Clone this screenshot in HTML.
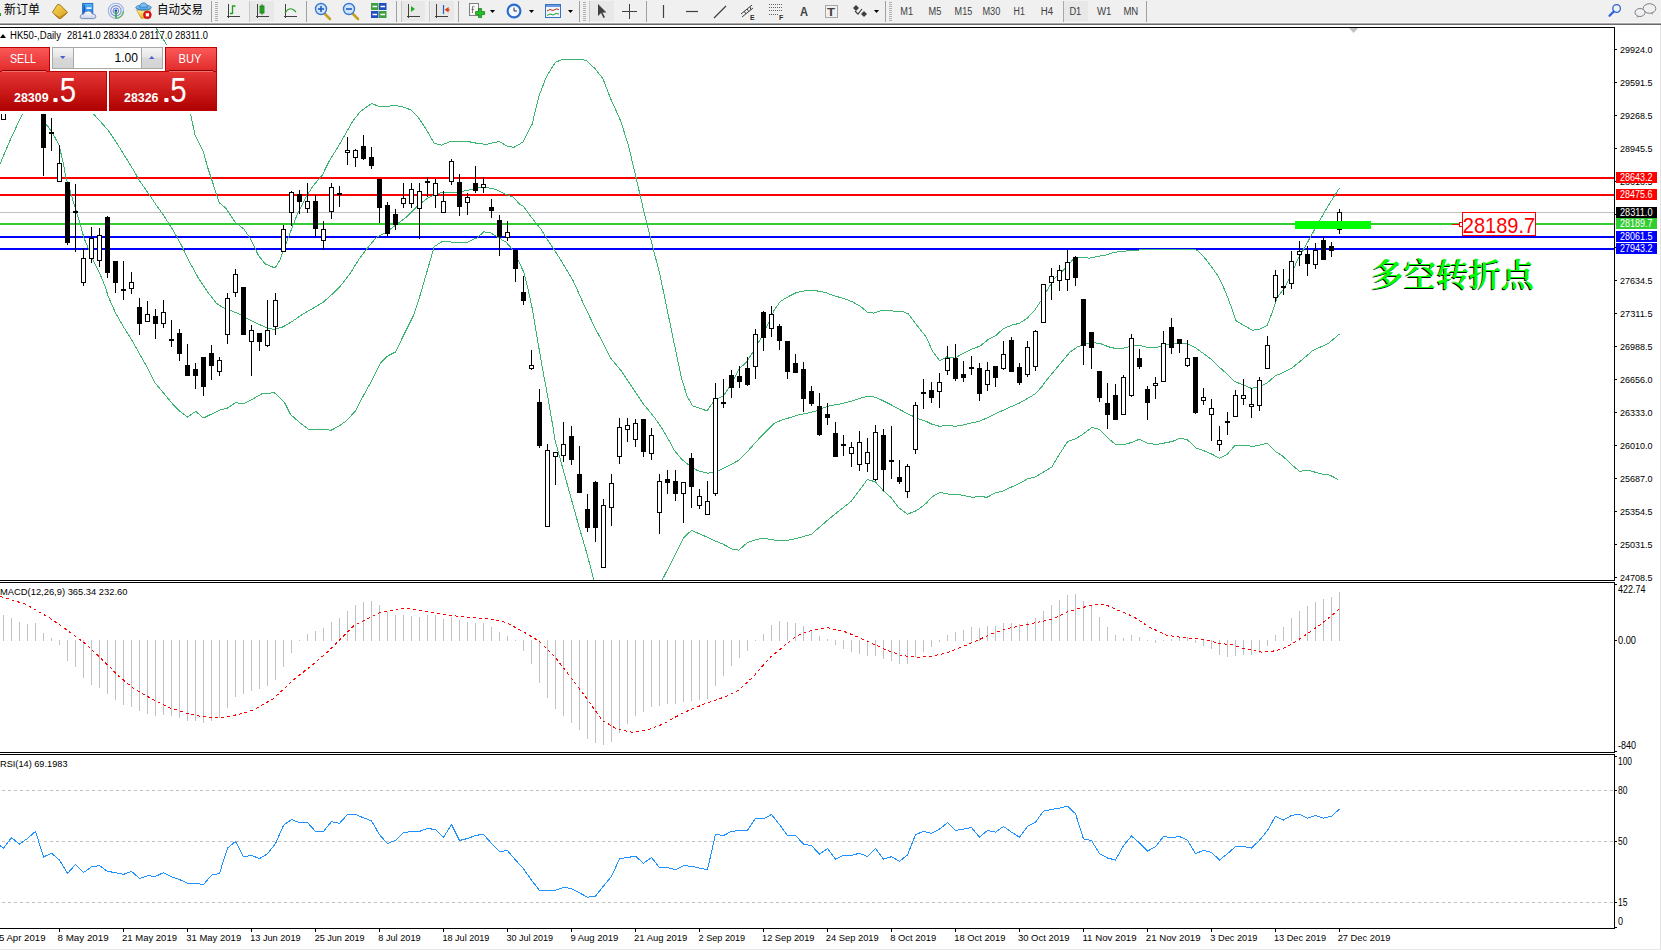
<!DOCTYPE html>
<html><head><meta charset="utf-8"><title>HK50 Daily</title>
<style>html,body{margin:0;padding:0;background:#f0f0f0;overflow:hidden}svg{display:block}</style>
</head><body>
<svg width="1661" height="950" viewBox="0 0 1661 950">
<rect x="0" y="0" width="1661" height="950" fill="#f0f0f0" />
<rect x="0" y="22" width="1661" height="1" fill="#f7f7f7" />
<rect x="0" y="23" width="1661" height="1" fill="#a8a8a8" />
<rect x="0" y="24" width="1661" height="1" fill="#6a6a6a" />
<rect x="0" y="25" width="1660" height="924" fill="#ffffff" />
<rect x="1660" y="25" width="1" height="925" fill="#e2e2e2" />
<text x="4" y="14" font-size="12" fill="#000" font-family="'Liberation Sans', 'Noto Sans CJK SC', 'WenQuanYi Zen Hei', sans-serif" textLength="36" lengthAdjust="spacingAndGlyphs" >新订单</text>
<text x="157" y="14" font-size="12" fill="#000" font-family="'Liberation Sans', 'Noto Sans CJK SC', 'WenQuanYi Zen Hei', sans-serif" textLength="46" lengthAdjust="spacingAndGlyphs" >自动交易</text>
<rect x="0" y="13" width="1" height="3" fill="#20a020" />
<defs><linearGradient id="gBook" x1="0" y1="0" x2="1" y2="1"><stop offset="0" stop-color="#f8d858"/><stop offset="1" stop-color="#d8a020"/></linearGradient><linearGradient id="gWin" x1="0" y1="0" x2="0" y2="1"><stop offset="0" stop-color="#58b8ff"/><stop offset="1" stop-color="#1a78e0"/></linearGradient><linearGradient id="gCloud" x1="0" y1="0" x2="0" y2="1"><stop offset="0" stop-color="#ffffff"/><stop offset="1" stop-color="#c8d4e8"/></linearGradient><linearGradient id="gHat" x1="0" y1="0" x2="0" y2="1"><stop offset="0" stop-color="#a8d8f8"/><stop offset="1" stop-color="#3a90d8"/></linearGradient><linearGradient id="gCup" x1="0" y1="0" x2="0" y2="1"><stop offset="0" stop-color="#fff0a0"/><stop offset="1" stop-color="#e8b020"/></linearGradient></defs>
<polygon points="52.5,12.2 57.6,4.4 60.3,5 67.6,12.4 61,18.4 58.6,18.4" fill="url(#gBook)" stroke="#a06a10" stroke-width="0.9" stroke-linejoin="round"/>
<path d="M54.5,14.6 L59.5,17.6 L66.8,13.2" fill="none" stroke="#b07818" stroke-width="1"/>
<rect x="82.6" y="3.4" width="10.2" height="10.5" fill="url(#gWin)" stroke="#1a68c8" stroke-width="0.9"/>
<path d="M84.2,4.4 L84.2,13" stroke="#0a50b0" stroke-width="1.2"/>
<rect x="86.5" y="7.2" width="5" height="1.8" fill="#e8f4ff"/>
<path d="M81.5,18.6 Q79.6,18.4 80.3,15.8 Q81.2,13.6 83.6,14.2 Q84.6,10.9 88.4,11 Q91.6,11.2 92.2,13.9 Q95.6,13.6 95.8,16.4 Q95.8,18.6 93.6,18.6 Z" fill="url(#gCloud)" stroke="#6a84b4" stroke-width="0.9"/>
<circle cx="115.9" cy="10.8" r="7.6" fill="none" stroke="#9ab4e8" stroke-width="1.1"/>
<circle cx="115.9" cy="10.8" r="5.2" fill="none" stroke="#7890d8" stroke-width="1.1"/>
<circle cx="115.9" cy="10.8" r="2.8" fill="none" stroke="#5a78d0" stroke-width="1"/>
<circle cx="115.9" cy="10.8" r="1.4" fill="#1a48c0"/>
<path d="M116,11 L116,18.6" stroke="#20a030" stroke-width="1.4"/>
<path d="M116.8,18.3 A7.6,7.6 0 0 0 123.5,11" fill="none" stroke="#58b860" stroke-width="1.3"/>
<path d="M136.5,10 L150.5,10 L146,18.2 L141,18.2 Z" fill="url(#gCup)" stroke="#c89818" stroke-width="0.7"/>
<ellipse cx="143.5" cy="7.6" rx="7.8" ry="2.6" fill="url(#gHat)" stroke="#2a78c0" stroke-width="0.8"/>
<path d="M139.6,7.2 Q140,3 143.6,2.9 Q147.2,3 147.5,7.2 Z" fill="#7cc0f0" stroke="#2a78c0" stroke-width="0.8"/>
<circle cx="147.4" cy="14.8" r="3.9" fill="#e01818" stroke="#b00000" stroke-width="0.6"/>
<rect x="145.8" y="13.2" width="3.2" height="3.2" fill="#ffffff"/>
<rect x="211" y="1" width="1" height="21" fill="#a0a0a0" shape-rendering="crispEdges"/>
<rect x="215" y="2" width="3" height="1" fill="#b0b0b0" shape-rendering="crispEdges"/>
<rect x="215" y="4" width="3" height="1" fill="#b0b0b0" shape-rendering="crispEdges"/>
<rect x="215" y="6" width="3" height="1" fill="#b0b0b0" shape-rendering="crispEdges"/>
<rect x="215" y="8" width="3" height="1" fill="#b0b0b0" shape-rendering="crispEdges"/>
<rect x="215" y="10" width="3" height="1" fill="#b0b0b0" shape-rendering="crispEdges"/>
<rect x="215" y="12" width="3" height="1" fill="#b0b0b0" shape-rendering="crispEdges"/>
<rect x="215" y="14" width="3" height="1" fill="#b0b0b0" shape-rendering="crispEdges"/>
<rect x="215" y="16" width="3" height="1" fill="#b0b0b0" shape-rendering="crispEdges"/>
<rect x="215" y="18" width="3" height="1" fill="#b0b0b0" shape-rendering="crispEdges"/>
<rect x="215" y="20" width="3" height="1" fill="#b0b0b0" shape-rendering="crispEdges"/>
<rect x="250" y="1" width="24" height="20" fill="#e8e8e8" shape-rendering="crispEdges"/>
<rect x="249" y="1" width="1" height="21" fill="#c8c8c8" shape-rendering="crispEdges"/>
<path d="M228.5,4 L228.5,18 M227,16.5 L240,16.5" stroke="#404040" stroke-width="1" fill="none" shape-rendering="crispEdges"/>
<path d="M232.5,14 L232.5,6 L235.5,6 M230,13.5 L232.5,13.5" stroke="#20a020" stroke-width="1.3" fill="none"/>
<path d="M257.5,4 L257.5,18 M256,16.5 L269,16.5" stroke="#404040" stroke-width="1" fill="none" shape-rendering="crispEdges"/>
<rect x="260" y="6" width="4" height="7" fill="#30c030" stroke="#107010" stroke-width="0.8"/>
<path d="M262,4 L262,15" stroke="#107010" stroke-width="0.8"/>
<path d="M285.5,4 L285.5,18 M284,16.5 L297,16.5" stroke="#404040" stroke-width="1" fill="none" shape-rendering="crispEdges"/>
<path d="M285,13 Q290,5 296,12" stroke="#20a020" stroke-width="1.2" fill="none"/>
<rect x="306" y="1" width="1" height="21" fill="#a0a0a0" shape-rendering="crispEdges"/>
<path d="M324,13 L330,19" stroke="#c8a020" stroke-width="2.6" stroke-linecap="round"/>
<circle cx="321" cy="9" r="5.5" fill="#cfe4fa" stroke="#3a78d0" stroke-width="1.4"/>
<path d="M318,9 L324,9" stroke="#2060c0" stroke-width="1.6"/>
<path d="M321,6 L321,12" stroke="#2060c0" stroke-width="1.6"/>
<path d="M352,13 L358,19" stroke="#c8a020" stroke-width="2.6" stroke-linecap="round"/>
<circle cx="349" cy="9" r="5.5" fill="#cfe4fa" stroke="#3a78d0" stroke-width="1.4"/>
<path d="M346,9 L352,9" stroke="#2060c0" stroke-width="1.6"/>
<rect x="371" y="3" width="7.5" height="7" fill="#40a040"/><rect x="379" y="3" width="7.5" height="7" fill="#2050c0"/>
<rect x="371" y="11" width="7.5" height="7" fill="#2050c0"/><rect x="379" y="11" width="7.5" height="7" fill="#40a040"/>
<path d="M372.5,6.5 h4.5 M380.5,6.5 h4.5 M372.5,14.5 h4.5 M380.5,14.5 h4.5" stroke="#fff" stroke-width="1.5"/>
<rect x="396" y="1" width="1" height="21" fill="#a0a0a0" shape-rendering="crispEdges"/>
<rect x="402" y="1" width="23" height="20" fill="#e8e8e8" shape-rendering="crispEdges"/>
<rect x="401" y="1" width="1" height="21" fill="#c8c8c8" shape-rendering="crispEdges"/>
<path d="M408.5,4 L408.5,18 M407,16.5 L420,16.5" stroke="#404040" stroke-width="1" fill="none" shape-rendering="crispEdges"/>
<polygon points="411,6 415,9 411,12" fill="#20b020"/>
<rect x="429" y="1" width="1" height="21" fill="#c8c8c8" shape-rendering="crispEdges"/>
<rect x="431" y="1" width="23" height="20" fill="#e8e8e8" shape-rendering="crispEdges"/>
<path d="M436.5,4 L436.5,18 M435,16.5 L448,16.5" stroke="#404040" stroke-width="1" fill="none" shape-rendering="crispEdges"/>
<path d="M443.5,5 L443.5,14" stroke="#2060c0" stroke-width="1.2"/><polygon points="444.6,9.8 448.6,7 448.6,12.6" fill="#e04010"/><path d="M448,9.8 h1.8" stroke="#e04010"/>
<rect x="458" y="1" width="1" height="21" fill="#a0a0a0" shape-rendering="crispEdges"/>
<rect x="469.5" y="3.5" width="9" height="12" fill="#f8f8f8" stroke="#808080"/>
<polygon points="478.6,8.6 481.6,8.6 481.6,11.6 484.6,11.6 484.6,14.6 481.6,14.6 481.6,17.6 478.6,17.6 478.6,14.6 475.6,14.6 475.6,11.6 478.6,11.6" fill="#28c028" stroke="#108010" stroke-width="0.8"/>
<path d="M472,7 q1.5,-1.5 2.5,0 M472.5,7 v6 M471.5,9.5 h2.5" stroke="#606060" stroke-width="0.8" fill="none"/>
<polygon points="490,10 495,10 492.5,13" fill="#000"/>
<circle cx="514" cy="11" r="7.5" fill="#2a6cd0"/><circle cx="514" cy="11" r="5.3" fill="#f4f8ff"/>
<path d="M514,7.5 L514,11 L517,11" stroke="#303030" stroke-width="1" fill="none"/>
<polygon points="529,10 534,10 531.5,13" fill="#000"/>
<rect x="545.5" y="4.5" width="15" height="13" fill="#f0f6ff" stroke="#3a70c0"/><rect x="546" y="5" width="14" height="2" fill="#6a9ae0"/>
<path d="M547,11 l3,-1.5 l3,1 l3,-1.5 l3,0.5" stroke="#c03010" fill="none" stroke-width="1"/><path d="M547,15.5 l3,-1.5 l3,1 l3,-1.5 l3,0.5" stroke="#20a020" fill="none" stroke-width="1"/>
<polygon points="568,10 573,10 570.5,13" fill="#000"/>
<rect x="579" y="1" width="1" height="21" fill="#a0a0a0" shape-rendering="crispEdges"/>
<rect x="583" y="2" width="3" height="1" fill="#b0b0b0" shape-rendering="crispEdges"/>
<rect x="583" y="4" width="3" height="1" fill="#b0b0b0" shape-rendering="crispEdges"/>
<rect x="583" y="6" width="3" height="1" fill="#b0b0b0" shape-rendering="crispEdges"/>
<rect x="583" y="8" width="3" height="1" fill="#b0b0b0" shape-rendering="crispEdges"/>
<rect x="583" y="10" width="3" height="1" fill="#b0b0b0" shape-rendering="crispEdges"/>
<rect x="583" y="12" width="3" height="1" fill="#b0b0b0" shape-rendering="crispEdges"/>
<rect x="583" y="14" width="3" height="1" fill="#b0b0b0" shape-rendering="crispEdges"/>
<rect x="583" y="16" width="3" height="1" fill="#b0b0b0" shape-rendering="crispEdges"/>
<rect x="583" y="18" width="3" height="1" fill="#b0b0b0" shape-rendering="crispEdges"/>
<rect x="583" y="20" width="3" height="1" fill="#b0b0b0" shape-rendering="crispEdges"/>
<rect x="589" y="1" width="1" height="21" fill="#c8c8c8" shape-rendering="crispEdges"/>
<rect x="590" y="1" width="24" height="20" fill="#e8e8e8" shape-rendering="crispEdges"/>
<polygon points="598,4 598,16 601,13 603.5,18 605,17.3 602.5,12.5 606.5,12.5" fill="#404040"/>
<path d="M622,11.5 h15 M629.5,4 v15" stroke="#404040" stroke-width="1" shape-rendering="crispEdges"/>
<rect x="646" y="1" width="1" height="21" fill="#a0a0a0" shape-rendering="crispEdges"/>
<path d="M663.5,5 v13" stroke="#404040" stroke-width="1.2"/>
<path d="M686,11.5 h12" stroke="#404040" stroke-width="1.2"/>
<path d="M714,18 L726,6" stroke="#404040" stroke-width="1.2"/>
<path d="M741,14 L752,5 M742,17 L753,8 M744,11 l2,3 M747,9 l2,3 M750,7 l1,3" stroke="#404040" stroke-width="1"/>
<text x="750" y="19.5" font-size="7" fill="#303030" font-family="'Liberation Sans', Arial, sans-serif" font-weight="bold" >E</text>
<path d="M769,4.5 h13 M769,7.5 h13 M769,10.5 h13 M769,14.5 h10" stroke="#606060" stroke-width="1" stroke-dasharray="1,1"/>
<text x="779" y="19.5" font-size="7" fill="#303030" font-family="'Liberation Sans', Arial, sans-serif" font-weight="bold" >F</text>
<text x="800" y="16" font-size="12" fill="#404040" font-family="'Liberation Sans', Arial, sans-serif" textLength="8" lengthAdjust="spacingAndGlyphs" font-weight="bold" >A</text>
<rect x="825.5" y="5.5" width="12" height="12" fill="none" stroke="#606060" stroke-dasharray="1,1"/>
<text x="827" y="16" font-size="11" fill="#404040" font-family="'Liberation Sans', Arial, sans-serif" textLength="8" lengthAdjust="spacingAndGlyphs" font-weight="bold" >T</text>
<polygon points="853,8 856,5 859,8 856,11" fill="#404040"/><polygon points="861,14 864,11 867,14 864,17" fill="#404040"/><path d="M855,11 l3,3 l4,-5" stroke="#404040" fill="none" stroke-width="1.2"/>
<polygon points="874,10 879,10 876.5,13" fill="#000"/>
<rect x="885" y="1" width="1" height="21" fill="#a0a0a0" shape-rendering="crispEdges"/>
<rect x="889" y="2" width="3" height="1" fill="#b0b0b0" shape-rendering="crispEdges"/>
<rect x="889" y="4" width="3" height="1" fill="#b0b0b0" shape-rendering="crispEdges"/>
<rect x="889" y="6" width="3" height="1" fill="#b0b0b0" shape-rendering="crispEdges"/>
<rect x="889" y="8" width="3" height="1" fill="#b0b0b0" shape-rendering="crispEdges"/>
<rect x="889" y="10" width="3" height="1" fill="#b0b0b0" shape-rendering="crispEdges"/>
<rect x="889" y="12" width="3" height="1" fill="#b0b0b0" shape-rendering="crispEdges"/>
<rect x="889" y="14" width="3" height="1" fill="#b0b0b0" shape-rendering="crispEdges"/>
<rect x="889" y="16" width="3" height="1" fill="#b0b0b0" shape-rendering="crispEdges"/>
<rect x="889" y="18" width="3" height="1" fill="#b0b0b0" shape-rendering="crispEdges"/>
<rect x="889" y="20" width="3" height="1" fill="#b0b0b0" shape-rendering="crispEdges"/>
<text x="900.3" y="15" font-size="10" fill="#404040" font-family="'Liberation Sans', Arial, sans-serif" textLength="12.8" lengthAdjust="spacingAndGlyphs" >M1</text>
<text x="928.5" y="15" font-size="10" fill="#404040" font-family="'Liberation Sans', Arial, sans-serif" textLength="12.8" lengthAdjust="spacingAndGlyphs" >M5</text>
<text x="954.6" y="15" font-size="10" fill="#404040" font-family="'Liberation Sans', Arial, sans-serif" textLength="17.6" lengthAdjust="spacingAndGlyphs" >M15</text>
<text x="982.4" y="15" font-size="10" fill="#404040" font-family="'Liberation Sans', Arial, sans-serif" textLength="17.9" lengthAdjust="spacingAndGlyphs" >M30</text>
<text x="1013.5" y="15" font-size="10" fill="#404040" font-family="'Liberation Sans', Arial, sans-serif" textLength="11.3" lengthAdjust="spacingAndGlyphs" >H1</text>
<text x="1040.7" y="15" font-size="10" fill="#404040" font-family="'Liberation Sans', Arial, sans-serif" textLength="12.3" lengthAdjust="spacingAndGlyphs" >H4</text>
<rect x="1063" y="1" width="1" height="21" fill="#a8a8a8" shape-rendering="crispEdges"/>
<rect x="1064" y="1" width="24" height="20" fill="#e8e8e8" shape-rendering="crispEdges"/>
<text x="1069.4" y="15" font-size="10" fill="#404040" font-family="'Liberation Sans', Arial, sans-serif" textLength="11.9" lengthAdjust="spacingAndGlyphs" >D1</text>
<text x="1097" y="15" font-size="10" fill="#404040" font-family="'Liberation Sans', Arial, sans-serif" textLength="14.5" lengthAdjust="spacingAndGlyphs" >W1</text>
<text x="1123.4" y="15" font-size="10" fill="#404040" font-family="'Liberation Sans', Arial, sans-serif" textLength="14.9" lengthAdjust="spacingAndGlyphs" >MN</text>
<rect x="1146" y="1" width="1" height="21" fill="#a0a0a0" shape-rendering="crispEdges"/>
<circle cx="1616.6" cy="8.5" r="3.8" fill="none" stroke="#2a62d8" stroke-width="1.3"/><path d="M1613.8,11.5 L1609.5,15.8" stroke="#2a62d8" stroke-width="2.2" stroke-linecap="round"/>
<ellipse cx="1649.5" cy="8.5" rx="6.3" ry="4.8" fill="#f0f0f4" stroke="#808080"/><path d="M1651,13 l1.5,2 l0.3,-2.4" fill="#909090"/>
<ellipse cx="1640" cy="12.5" rx="5" ry="4" fill="#f0f0f4" stroke="#808080"/><path d="M1637,16 l-0.5,2 l2.2,-1.6" fill="#909090"/>
<g shape-rendering="crispEdges">
<rect x="0" y="27" width="1615" height="1" fill="#000" />
<rect x="1614" y="27" width="1" height="554" fill="#000" />
<rect x="0" y="580" width="1615" height="1" fill="#000" />
<rect x="0" y="582" width="1615" height="1" fill="#000" />
<rect x="1614" y="582" width="1" height="171" fill="#000" />
<rect x="0" y="752" width="1615" height="1" fill="#000" />
<rect x="0" y="754" width="1615" height="1" fill="#000" />
<rect x="1614" y="754" width="1" height="175" fill="#000" />
<rect x="0" y="928" width="1615" height="1" fill="#000" />
</g>
<defs><clipPath id="mc"><rect x="0" y="28" width="1614" height="552"/></clipPath><clipPath id="macdc"><rect x="0" y="583" width="1614" height="169"/></clipPath><clipPath id="rsic"><rect x="0" y="755" width="1614" height="173"/></clipPath></defs>
<g clip-path="url(#mc)">
<g shape-rendering="crispEdges">
<rect x="0" y="212" width="1614" height="1" fill="#c0c0c0" />
<rect x="0" y="177" width="1614" height="2" fill="#ff0000" />
<rect x="0" y="194" width="1614" height="2" fill="#ff0000" />
<rect x="0" y="223" width="1614" height="2" fill="#32cd32" />
<rect x="0" y="236" width="1614" height="2" fill="#0000ff" />
<rect x="0" y="248" width="1614" height="2" fill="#0000ff" />
</g>
<polyline points="155.4,27.0 166.3,44.2 178.0,78.0 190.5,113.4 195.0,135.1 203.2,151.3 207.7,167.6 211.3,178.4 216.7,194.7 219.4,202.8 225.8,208.2 234.8,221.8 243.8,229.0 251.0,239.8 258.3,255.2 265.5,264.2 268.8,265.4 275.1,268.1 279.9,260.0 288.1,238.1 297.1,214.6 306.1,196.6 313.3,185.7 322.4,174.9 329.6,160.4 338.6,146.0 345.9,133.3 353.1,120.7 360.3,111.7 367.5,106.3 372.0,103.5 378.4,106.3 387.4,106.3 394.6,105.4 403.6,107.2 410.9,109.9 418.1,117.1 425.3,127.9 434.3,143.3 441.6,145.1 450.6,141.5 459.6,141.5 470.5,142.0 479.5,143.8 486.7,144.2 493.9,142.7 499.4,141.5 506.6,146.0 513.8,147.4 520.0,143.9 523.3,141.7 532.2,124.0 538.8,96.4 546.5,76.5 555.4,62.2 563.1,59.3 580.8,59.3 586.3,60.6 595.2,68.8 602.9,78.7 610.6,98.6 620.6,120.7 628.3,145.0 634.9,172.7 640.5,197.0 646.0,220.2 651.5,242.3 654.8,255.0 659.4,272.1 664.9,298.6 670.4,325.2 675.9,351.7 681.5,378.2 687.0,395.9 692.5,405.8 699.2,408.0 706.9,410.9 714.6,400.3 723.5,395.9 732.3,382.6 739.5,368.4 745.8,362.9 753.7,351.0 761.6,336.8 767.9,324.2 774.2,310.0 780.5,301.3 788.4,296.6 796.3,292.6 805.8,290.7 815.2,290.6 824.7,292.3 834.2,295.8 843.7,298.5 853.1,302.1 861.0,306.8 867.3,312.0 873.6,313.1 881.5,310.5 887.9,310.5 895.7,311.3 903.6,311.9 908.4,313.9 913.1,320.3 920.0,329.2 926.3,337.1 932.6,351.3 939.7,360.8 946.8,356.8 954.7,358.1 962.6,353.7 972.1,348.9 980.0,346.1 987.9,339.8 995.8,335.5 1003.7,328.4 1011.6,325.2 1019.4,323.3 1027.3,318.1 1035.2,309.5 1041.5,300.0 1047.9,288.9 1054.2,278.7 1062.1,271.6 1068.4,265.3 1073.9,258.2 1081.0,257.0 1088.9,258.2 1096.8,256.6 1106.3,255.0 1114.2,252.3 1128.4,250.7 1142.6,249.8 1166.3,249.8 1194.7,249.5 1197.9,251.0 1204.2,257.4 1210.5,265.3 1217.6,275.5 1221.5,282.6 1226.3,293.7 1231.0,306.3 1235.8,320.5 1243.6,325.2 1252.3,330.3 1259.4,329.2 1267.3,325.2 1272.1,312.6 1276.8,298.4 1284.7,287.4 1291.0,274.7 1297.3,260.5 1300.0,255.8 1315.8,227.4 1328.5,205.3 1339.5,187.9" fill="none" stroke="#3cb371" stroke-width="1" shape-rendering="crispEdges" />
<polyline points="93.0,113.4 101.1,122.4 108.4,130.6 117.4,144.1 126.4,158.6 133.6,170.3 139.1,180.2 148.1,192.9 155.3,203.7 164.3,216.4 173.4,230.8 182.4,247.1 188.4,260.0 198.4,278.1 207.4,291.6 216.4,303.3 223.6,307.9 230.9,310.6 239.9,314.2 247.1,318.7 256.2,323.2 267.0,327.7 274.2,329.5 283.2,326.8 292.3,321.4 301.3,315.1 312.1,308.8 323.0,302.4 332.0,294.3 341.0,285.3 350.1,273.5 358.5,260.0 367.5,248.0 376.6,237.2 385.6,232.7 396.4,224.5 407.3,216.4 418.1,205.6 427.1,198.4 436.2,193.8 445.2,192.0 457.8,192.0 468.7,190.2 477.7,187.5 486.7,187.5 495.8,189.3 504.8,193.8 513.8,197.5 520.0,204.7 522.8,205.6 531.1,216.9 540.9,229.1 549.9,243.5 554.4,250.0 562.1,262.2 573.2,280.9 584.2,305.3 595.3,328.5 604.1,345.0 610.7,358.3 621.8,371.6 635.0,391.5 643.9,404.7 654.9,418.0 663.8,431.3 672.6,446.7 674.2,450.3 682.1,459.7 690.0,466.0 697.9,470.8 707.3,473.1 712.1,472.8 720.0,470.0 729.4,465.3 737.9,460.8 745.8,453.4 752.1,446.3 760.0,437.6 766.3,431.3 774.2,423.4 782.1,419.8 790.0,417.6 797.9,415.1 805.8,413.5 815.2,411.3 823.1,407.9 831.0,405.5 840.5,403.9 851.5,401.2 859.4,398.4 867.3,396.5 875.2,397.1 883.1,400.8 891.0,404.7 898.9,409.1 906.8,413.4 914.7,417.0 920.0,419.5 926.3,421.4 932.6,424.5 939.7,426.3 947.6,425.3 955.5,426.3 963.4,425.0 971.3,422.9 979.2,421.4 987.1,417.9 995.8,413.6 1003.7,410.0 1010.8,406.8 1018.7,403.4 1027.3,398.6 1035.2,393.9 1041.5,387.1 1046.3,380.5 1054.2,371.0 1062.1,361.5 1070.0,352.1 1077.9,346.6 1087.3,343.4 1095.2,342.9 1100.0,343.4 1107.9,346.6 1115.8,348.6 1123.7,348.1 1131.6,346.1 1139.5,345.4 1147.4,347.3 1156.8,347.3 1163.1,345.4 1171.0,344.2 1178.9,342.9 1186.8,343.4 1194.7,347.3 1202.6,352.9 1210.5,358.7 1218.4,366.3 1226.3,373.4 1234.2,381.3 1242.1,384.4 1251.5,388.4 1259.4,386.8 1267.3,382.9 1275.2,375.8 1283.1,372.6 1291.0,368.7 1300.0,361.5 1312.7,350.6 1328.5,343.4 1339.5,333.9" fill="none" stroke="#3cb371" stroke-width="1" shape-rendering="crispEdges" />
<polyline points="0.0,164.0 10.8,138.7 22.6,113.4 30.0,100.0" fill="none" stroke="#3cb371" stroke-width="1" shape-rendering="crispEdges" />
<polyline points="36.0,105.0 41.0,114.0 46.0,124.0 52.0,132.0 59.0,145.0 63.0,162.0 66.0,178.0 70.0,190.0 74.0,204.0 79.0,220.0 84.0,238.0 89.0,250.0 94.0,262.0 100.0,274.0 105.0,286.0 108.1,296.1 115.3,312.4 123.4,326.8 131.5,339.5 140.6,355.7 147.8,368.4 155.0,382.8 164.0,393.6 173.1,404.5 180.3,411.7 187.5,417.1 195.7,411.3 203.4,418.0 211.3,414.2 219.1,410.3 227.3,408.1 235.4,402.7 243.5,403.6 252.5,399.1 261.6,394.0 270.0,393.1 274.2,392.7 279.6,397.3 284.5,402.5 290.5,414.4 299.5,422.5 308.5,429.2 326.6,429.2 330.5,430.5 338.7,426.3 346.5,420.7 355.5,410.8 364.5,393.6 373.5,377.4 380.0,363.7 387.7,356.0 395.5,352.0 404.3,333.9 413.2,316.2 419.8,296.3 427.5,269.8 434.2,246.6 443.0,241.1 452.9,242.2 467.3,242.2 477.3,237.7 483.9,231.8 490.5,232.7 496.0,236.2 506.0,242.2 512.6,249.5 517.0,257.6 523.7,272.0 528.1,289.7 532.5,309.6 536.9,336.1 541.4,362.6 548.0,398.0 553.3,429.0 555.0,440.0 563.7,471.6 571.6,500.0 579.5,528.4 587.4,555.2 593.7,579.7 596.0,590.0" fill="none" stroke="#3cb371" stroke-width="1" shape-rendering="crispEdges" />
<polyline points="660.0,590.0 662.3,579.7 671.0,563.1 677.3,550.5 683.6,537.9 691.5,530.3 699.4,533.9 707.3,537.1 715.2,541.0 723.1,544.2 731.8,548.9 738.7,550.2 747.4,542.6 755.3,539.8 763.1,538.2 771.0,539.4 778.9,541.0 788.4,540.2 796.3,538.6 804.2,536.3 811.3,534.4 820.0,526.8 829.4,518.6 838.9,511.0 850.8,501.6 859.4,490.5 867.3,479.5 875.2,481.8 883.1,490.5 891.0,497.6 898.9,507.9 907.6,514.2 915.5,511.0 920.0,508.2 926.3,503.1 932.6,496.5 939.7,492.4 947.6,494.0 957.9,494.4 964.2,495.7 972.1,497.3 980.0,496.5 987.1,497.3 994.2,493.3 1002.1,491.3 1011.6,487.0 1019.4,483.4 1027.3,479.0 1035.2,477.1 1043.1,472.3 1051.8,467.1 1058.9,455.0 1067.6,441.6 1074.7,439.2 1082.6,434.5 1092.1,427.4 1099.2,429.3 1110.1,439.9 1115.6,444.4 1124.5,444.4 1132.0,442.3 1139.2,439.3 1148.1,443.6 1157.3,444.4 1164.1,443.1 1172.5,441.4 1179.3,438.5 1186.8,439.3 1196.1,447.9 1205.4,451.3 1213.0,454.7 1219.3,458.2 1227.3,454.3 1234.9,445.4 1240.0,445.4 1248.0,445.5 1251.8,446.5 1259.4,445.2 1267.0,443.2 1275.8,451.8 1282.1,455.6 1293.5,466.3 1299.8,471.4 1307.4,470.1 1313.7,471.8 1321.3,473.9 1330.1,475.2 1338.3,479.6" fill="none" stroke="#3cb371" stroke-width="1" shape-rendering="crispEdges" />
<g shape-rendering="crispEdges" fill="#000">
<rect x="3" y="100" width="1" height="20"/>
<rect x="1" y="104" width="5" height="16"/>
<rect x="2" y="105" width="3" height="14" fill="#fff"/>
<rect x="43" y="90" width="1" height="86"/>
<rect x="41" y="90" width="5" height="58"/>
<rect x="51" y="118" width="1" height="33"/>
<rect x="49" y="132" width="5" height="2"/>
<rect x="59" y="145" width="1" height="37"/>
<rect x="57" y="163" width="5" height="19"/>
<rect x="58" y="164" width="3" height="17" fill="#fff"/>
<rect x="67" y="182" width="1" height="63"/>
<rect x="65" y="182" width="5" height="61"/>
<rect x="75" y="184" width="1" height="68"/>
<rect x="73" y="211" width="5" height="2"/>
<rect x="83" y="248" width="1" height="38"/>
<rect x="81" y="258" width="5" height="25"/>
<rect x="82" y="259" width="3" height="23" fill="#fff"/>
<rect x="91" y="227" width="1" height="36"/>
<rect x="89" y="238" width="5" height="21"/>
<rect x="90" y="239" width="3" height="19" fill="#fff"/>
<rect x="99" y="228" width="1" height="39"/>
<rect x="97" y="235" width="5" height="26"/>
<rect x="98" y="236" width="3" height="24" fill="#fff"/>
<rect x="107" y="216" width="1" height="62"/>
<rect x="105" y="217" width="5" height="56"/>
<rect x="115" y="261" width="1" height="32"/>
<rect x="113" y="261" width="5" height="22"/>
<rect x="123" y="261" width="1" height="39"/>
<rect x="121" y="289" width="5" height="2"/>
<rect x="131" y="272" width="1" height="22"/>
<rect x="129" y="282" width="5" height="7"/>
<rect x="130" y="283" width="3" height="5" fill="#fff"/>
<rect x="139" y="298" width="1" height="37"/>
<rect x="137" y="307" width="5" height="17"/>
<rect x="147" y="301" width="1" height="21"/>
<rect x="145" y="314" width="5" height="8"/>
<rect x="146" y="315" width="3" height="6" fill="#fff"/>
<rect x="155" y="309" width="1" height="30"/>
<rect x="153" y="316" width="5" height="8"/>
<rect x="163" y="300" width="1" height="28"/>
<rect x="161" y="312" width="5" height="12"/>
<rect x="162" y="313" width="3" height="10" fill="#fff"/>
<rect x="171" y="320" width="1" height="27"/>
<rect x="169" y="339" width="5" height="2"/>
<rect x="179" y="329" width="1" height="32"/>
<rect x="177" y="333" width="5" height="21"/>
<rect x="187" y="344" width="1" height="32"/>
<rect x="185" y="365" width="5" height="11"/>
<rect x="195" y="363" width="1" height="26"/>
<rect x="193" y="369" width="5" height="7"/>
<rect x="203" y="357" width="1" height="39"/>
<rect x="201" y="357" width="5" height="30"/>
<rect x="211" y="345" width="1" height="35"/>
<rect x="209" y="353" width="5" height="13"/>
<rect x="219" y="357" width="1" height="19"/>
<rect x="217" y="360" width="5" height="12"/>
<rect x="218" y="361" width="3" height="10" fill="#fff"/>
<rect x="227" y="293" width="1" height="51"/>
<rect x="225" y="298" width="5" height="37"/>
<rect x="226" y="299" width="3" height="35" fill="#fff"/>
<rect x="235" y="269" width="1" height="28"/>
<rect x="233" y="274" width="5" height="19"/>
<rect x="234" y="275" width="3" height="17" fill="#fff"/>
<rect x="243" y="287" width="1" height="48"/>
<rect x="241" y="287" width="5" height="48"/>
<rect x="251" y="325" width="1" height="51"/>
<rect x="249" y="330" width="5" height="12"/>
<rect x="250" y="331" width="3" height="10" fill="#fff"/>
<rect x="259" y="333" width="1" height="18"/>
<rect x="257" y="333" width="5" height="9"/>
<rect x="267" y="300" width="1" height="47"/>
<rect x="265" y="330" width="5" height="16"/>
<rect x="266" y="331" width="3" height="14" fill="#fff"/>
<rect x="275" y="293" width="1" height="42"/>
<rect x="273" y="300" width="5" height="27"/>
<rect x="274" y="301" width="3" height="25" fill="#fff"/>
<rect x="283" y="225" width="1" height="27"/>
<rect x="281" y="229" width="5" height="23"/>
<rect x="282" y="230" width="3" height="21" fill="#fff"/>
<rect x="291" y="191" width="1" height="35"/>
<rect x="289" y="192" width="5" height="21"/>
<rect x="290" y="193" width="3" height="19" fill="#fff"/>
<rect x="299" y="190" width="1" height="24"/>
<rect x="297" y="194" width="5" height="8"/>
<rect x="307" y="183" width="1" height="30"/>
<rect x="305" y="201" width="5" height="8"/>
<rect x="306" y="202" width="3" height="6" fill="#fff"/>
<rect x="315" y="195" width="1" height="42"/>
<rect x="313" y="201" width="5" height="28"/>
<rect x="323" y="221" width="1" height="29"/>
<rect x="321" y="229" width="5" height="12"/>
<rect x="322" y="230" width="3" height="10" fill="#fff"/>
<rect x="331" y="183" width="1" height="36"/>
<rect x="329" y="187" width="5" height="25"/>
<rect x="330" y="188" width="3" height="23" fill="#fff"/>
<rect x="339" y="186" width="1" height="21"/>
<rect x="337" y="193" width="5" height="2"/>
<rect x="347" y="137" width="1" height="28"/>
<rect x="345" y="150" width="5" height="3"/>
<rect x="346" y="151" width="3" height="1" fill="#fff"/>
<rect x="355" y="149" width="1" height="18"/>
<rect x="353" y="150" width="5" height="8"/>
<rect x="354" y="151" width="3" height="6" fill="#fff"/>
<rect x="363" y="135" width="1" height="25"/>
<rect x="361" y="146" width="5" height="13"/>
<rect x="371" y="147" width="1" height="22"/>
<rect x="369" y="157" width="5" height="9"/>
<rect x="379" y="179" width="1" height="44"/>
<rect x="377" y="179" width="5" height="29"/>
<rect x="387" y="202" width="1" height="35"/>
<rect x="385" y="205" width="5" height="29"/>
<rect x="395" y="209" width="1" height="21"/>
<rect x="393" y="214" width="5" height="11"/>
<rect x="403" y="183" width="1" height="25"/>
<rect x="401" y="198" width="5" height="6"/>
<rect x="402" y="199" width="3" height="4" fill="#fff"/>
<rect x="411" y="183" width="1" height="25"/>
<rect x="409" y="189" width="5" height="15"/>
<rect x="410" y="190" width="3" height="13" fill="#fff"/>
<rect x="419" y="183" width="1" height="56"/>
<rect x="417" y="191" width="5" height="18"/>
<rect x="418" y="192" width="3" height="16" fill="#fff"/>
<rect x="427" y="177" width="1" height="20"/>
<rect x="425" y="181" width="5" height="2"/>
<rect x="435" y="179" width="1" height="29"/>
<rect x="433" y="183" width="5" height="13"/>
<rect x="434" y="184" width="3" height="11" fill="#fff"/>
<rect x="443" y="191" width="1" height="22"/>
<rect x="441" y="201" width="5" height="12"/>
<rect x="442" y="202" width="3" height="10" fill="#fff"/>
<rect x="451" y="159" width="1" height="26"/>
<rect x="449" y="161" width="5" height="21"/>
<rect x="450" y="162" width="3" height="19" fill="#fff"/>
<rect x="459" y="174" width="1" height="42"/>
<rect x="457" y="182" width="5" height="25"/>
<rect x="467" y="193" width="1" height="22"/>
<rect x="465" y="197" width="5" height="6"/>
<rect x="466" y="198" width="3" height="4" fill="#fff"/>
<rect x="475" y="166" width="1" height="27"/>
<rect x="473" y="183" width="5" height="8"/>
<rect x="483" y="177" width="1" height="16"/>
<rect x="481" y="184" width="5" height="4"/>
<rect x="482" y="185" width="3" height="2" fill="#fff"/>
<rect x="491" y="199" width="1" height="19"/>
<rect x="489" y="207" width="5" height="4"/>
<rect x="499" y="215" width="1" height="41"/>
<rect x="497" y="220" width="5" height="17"/>
<rect x="507" y="221" width="1" height="20"/>
<rect x="505" y="232" width="5" height="6"/>
<rect x="506" y="233" width="3" height="4" fill="#fff"/>
<rect x="515" y="250" width="1" height="32"/>
<rect x="513" y="250" width="5" height="19"/>
<rect x="523" y="276" width="1" height="29"/>
<rect x="521" y="292" width="5" height="9"/>
<rect x="531" y="350" width="1" height="20"/>
<rect x="529" y="365" width="5" height="4"/>
<rect x="530" y="366" width="3" height="2" fill="#fff"/>
<rect x="539" y="389" width="1" height="59"/>
<rect x="537" y="402" width="5" height="44"/>
<rect x="547" y="444" width="1" height="83"/>
<rect x="545" y="450" width="5" height="77"/>
<rect x="546" y="451" width="3" height="75" fill="#fff"/>
<rect x="555" y="452" width="1" height="33"/>
<rect x="553" y="452" width="5" height="5"/>
<rect x="554" y="453" width="3" height="3" fill="#fff"/>
<rect x="563" y="422" width="1" height="40"/>
<rect x="561" y="444" width="5" height="12"/>
<rect x="562" y="445" width="3" height="10" fill="#fff"/>
<rect x="571" y="426" width="1" height="39"/>
<rect x="569" y="436" width="5" height="24"/>
<rect x="579" y="446" width="1" height="47"/>
<rect x="577" y="474" width="5" height="19"/>
<rect x="587" y="494" width="1" height="38"/>
<rect x="585" y="509" width="5" height="19"/>
<rect x="595" y="481" width="1" height="61"/>
<rect x="593" y="482" width="5" height="46"/>
<rect x="603" y="499" width="1" height="69"/>
<rect x="601" y="505" width="5" height="63"/>
<rect x="602" y="506" width="3" height="61" fill="#fff"/>
<rect x="611" y="474" width="1" height="52"/>
<rect x="609" y="483" width="5" height="25"/>
<rect x="610" y="484" width="3" height="23" fill="#fff"/>
<rect x="619" y="418" width="1" height="46"/>
<rect x="617" y="427" width="5" height="30"/>
<rect x="618" y="428" width="3" height="28" fill="#fff"/>
<rect x="627" y="418" width="1" height="24"/>
<rect x="625" y="425" width="5" height="5"/>
<rect x="626" y="426" width="3" height="3" fill="#fff"/>
<rect x="635" y="419" width="1" height="28"/>
<rect x="633" y="423" width="5" height="17"/>
<rect x="634" y="424" width="3" height="15" fill="#fff"/>
<rect x="643" y="419" width="1" height="38"/>
<rect x="641" y="419" width="5" height="33"/>
<rect x="651" y="428" width="1" height="32"/>
<rect x="649" y="435" width="5" height="19"/>
<rect x="650" y="436" width="3" height="17" fill="#fff"/>
<rect x="659" y="474" width="1" height="60"/>
<rect x="657" y="481" width="5" height="32"/>
<rect x="658" y="482" width="3" height="30" fill="#fff"/>
<rect x="667" y="470" width="1" height="24"/>
<rect x="665" y="479" width="5" height="4"/>
<rect x="675" y="470" width="1" height="31"/>
<rect x="673" y="481" width="5" height="13"/>
<rect x="683" y="482" width="1" height="41"/>
<rect x="681" y="482" width="5" height="12"/>
<rect x="682" y="483" width="3" height="10" fill="#fff"/>
<rect x="691" y="453" width="1" height="55"/>
<rect x="689" y="458" width="5" height="29"/>
<rect x="699" y="489" width="1" height="20"/>
<rect x="697" y="496" width="5" height="10"/>
<rect x="698" y="497" width="3" height="8" fill="#fff"/>
<rect x="707" y="481" width="1" height="34"/>
<rect x="705" y="501" width="5" height="14"/>
<rect x="706" y="502" width="3" height="12" fill="#fff"/>
<rect x="715" y="383" width="1" height="113"/>
<rect x="713" y="398" width="5" height="96"/>
<rect x="714" y="399" width="3" height="94" fill="#fff"/>
<rect x="723" y="379" width="1" height="29"/>
<rect x="721" y="402" width="5" height="2"/>
<rect x="731" y="370" width="1" height="28"/>
<rect x="729" y="375" width="5" height="13"/>
<rect x="739" y="366" width="1" height="22"/>
<rect x="737" y="376" width="5" height="6"/>
<rect x="747" y="357" width="1" height="29"/>
<rect x="745" y="368" width="5" height="17"/>
<rect x="755" y="329" width="1" height="50"/>
<rect x="753" y="334" width="5" height="33"/>
<rect x="754" y="335" width="3" height="31" fill="#fff"/>
<rect x="763" y="311" width="1" height="40"/>
<rect x="761" y="312" width="5" height="26"/>
<rect x="771" y="306" width="1" height="31"/>
<rect x="769" y="314" width="5" height="15"/>
<rect x="770" y="315" width="3" height="13" fill="#fff"/>
<rect x="779" y="324" width="1" height="26"/>
<rect x="777" y="326" width="5" height="15"/>
<rect x="787" y="341" width="1" height="38"/>
<rect x="785" y="341" width="5" height="31"/>
<rect x="795" y="354" width="1" height="19"/>
<rect x="793" y="363" width="5" height="10"/>
<rect x="803" y="362" width="1" height="50"/>
<rect x="801" y="369" width="5" height="30"/>
<rect x="811" y="386" width="1" height="20"/>
<rect x="809" y="391" width="5" height="13"/>
<rect x="819" y="393" width="1" height="43"/>
<rect x="817" y="406" width="5" height="29"/>
<rect x="827" y="403" width="1" height="22"/>
<rect x="825" y="414" width="5" height="4"/>
<rect x="835" y="422" width="1" height="35"/>
<rect x="833" y="433" width="5" height="24"/>
<rect x="843" y="435" width="1" height="21"/>
<rect x="841" y="444" width="5" height="2"/>
<rect x="851" y="442" width="1" height="25"/>
<rect x="849" y="447" width="5" height="7"/>
<rect x="850" y="448" width="3" height="5" fill="#fff"/>
<rect x="859" y="431" width="1" height="40"/>
<rect x="857" y="442" width="5" height="23"/>
<rect x="858" y="443" width="3" height="21" fill="#fff"/>
<rect x="867" y="438" width="1" height="34"/>
<rect x="865" y="452" width="5" height="12"/>
<rect x="866" y="453" width="3" height="10" fill="#fff"/>
<rect x="875" y="425" width="1" height="56"/>
<rect x="873" y="432" width="5" height="48"/>
<rect x="874" y="433" width="3" height="46" fill="#fff"/>
<rect x="883" y="429" width="1" height="62"/>
<rect x="881" y="435" width="5" height="35"/>
<rect x="891" y="426" width="1" height="53"/>
<rect x="889" y="460" width="5" height="2"/>
<rect x="899" y="460" width="1" height="24"/>
<rect x="897" y="477" width="5" height="5"/>
<rect x="907" y="464" width="1" height="34"/>
<rect x="905" y="466" width="5" height="26"/>
<rect x="906" y="467" width="3" height="24" fill="#fff"/>
<rect x="915" y="402" width="1" height="52"/>
<rect x="913" y="405" width="5" height="45"/>
<rect x="914" y="406" width="3" height="43" fill="#fff"/>
<rect x="923" y="379" width="1" height="30"/>
<rect x="921" y="392" width="5" height="2"/>
<rect x="931" y="382" width="1" height="21"/>
<rect x="929" y="390" width="5" height="8"/>
<rect x="939" y="373" width="1" height="35"/>
<rect x="937" y="382" width="5" height="10"/>
<rect x="938" y="383" width="3" height="8" fill="#fff"/>
<rect x="947" y="346" width="1" height="29"/>
<rect x="945" y="358" width="5" height="13"/>
<rect x="946" y="359" width="3" height="11" fill="#fff"/>
<rect x="955" y="344" width="1" height="37"/>
<rect x="953" y="358" width="5" height="21"/>
<rect x="963" y="361" width="1" height="21"/>
<rect x="961" y="374" width="5" height="4"/>
<rect x="971" y="356" width="1" height="19"/>
<rect x="969" y="367" width="5" height="2"/>
<rect x="979" y="363" width="1" height="38"/>
<rect x="977" y="368" width="5" height="26"/>
<rect x="987" y="362" width="1" height="29"/>
<rect x="985" y="370" width="5" height="15"/>
<rect x="986" y="371" width="3" height="13" fill="#fff"/>
<rect x="995" y="366" width="1" height="21"/>
<rect x="993" y="366" width="5" height="12"/>
<rect x="1003" y="341" width="1" height="29"/>
<rect x="1001" y="354" width="5" height="15"/>
<rect x="1002" y="355" width="3" height="13" fill="#fff"/>
<rect x="1011" y="337" width="1" height="35"/>
<rect x="1009" y="340" width="5" height="32"/>
<rect x="1019" y="363" width="1" height="22"/>
<rect x="1017" y="367" width="5" height="16"/>
<rect x="1027" y="341" width="1" height="36"/>
<rect x="1025" y="347" width="5" height="28"/>
<rect x="1026" y="348" width="3" height="26" fill="#fff"/>
<rect x="1035" y="330" width="1" height="41"/>
<rect x="1033" y="331" width="5" height="36"/>
<rect x="1034" y="332" width="3" height="34" fill="#fff"/>
<rect x="1043" y="284" width="1" height="39"/>
<rect x="1041" y="284" width="5" height="39"/>
<rect x="1042" y="285" width="3" height="37" fill="#fff"/>
<rect x="1051" y="268" width="1" height="32"/>
<rect x="1049" y="276" width="5" height="7"/>
<rect x="1050" y="277" width="3" height="5" fill="#fff"/>
<rect x="1059" y="265" width="1" height="26"/>
<rect x="1057" y="270" width="5" height="11"/>
<rect x="1058" y="271" width="3" height="9" fill="#fff"/>
<rect x="1067" y="250" width="1" height="41"/>
<rect x="1065" y="262" width="5" height="18"/>
<rect x="1066" y="263" width="3" height="16" fill="#fff"/>
<rect x="1075" y="256" width="1" height="30"/>
<rect x="1073" y="257" width="5" height="21"/>
<rect x="1083" y="299" width="1" height="66"/>
<rect x="1081" y="299" width="5" height="47"/>
<rect x="1091" y="332" width="1" height="37"/>
<rect x="1089" y="332" width="5" height="16"/>
<rect x="1099" y="371" width="1" height="31"/>
<rect x="1097" y="371" width="5" height="27"/>
<rect x="1107" y="383" width="1" height="46"/>
<rect x="1105" y="403" width="5" height="12"/>
<rect x="1115" y="384" width="1" height="36"/>
<rect x="1113" y="395" width="5" height="25"/>
<rect x="1123" y="375" width="1" height="40"/>
<rect x="1121" y="377" width="5" height="38"/>
<rect x="1122" y="378" width="3" height="36" fill="#fff"/>
<rect x="1131" y="334" width="1" height="63"/>
<rect x="1129" y="338" width="5" height="58"/>
<rect x="1130" y="339" width="3" height="56" fill="#fff"/>
<rect x="1139" y="349" width="1" height="20"/>
<rect x="1137" y="358" width="5" height="9"/>
<rect x="1147" y="386" width="1" height="34"/>
<rect x="1145" y="389" width="5" height="14"/>
<rect x="1155" y="377" width="1" height="22"/>
<rect x="1153" y="383" width="5" height="3"/>
<rect x="1154" y="384" width="3" height="1" fill="#fff"/>
<rect x="1163" y="331" width="1" height="51"/>
<rect x="1161" y="343" width="5" height="39"/>
<rect x="1162" y="344" width="3" height="37" fill="#fff"/>
<rect x="1171" y="318" width="1" height="36"/>
<rect x="1169" y="327" width="5" height="21"/>
<rect x="1179" y="339" width="1" height="14"/>
<rect x="1177" y="339" width="5" height="5"/>
<rect x="1187" y="340" width="1" height="27"/>
<rect x="1185" y="358" width="5" height="8"/>
<rect x="1186" y="359" width="3" height="6" fill="#fff"/>
<rect x="1195" y="357" width="1" height="57"/>
<rect x="1193" y="357" width="5" height="56"/>
<rect x="1203" y="388" width="1" height="17"/>
<rect x="1201" y="397" width="5" height="4"/>
<rect x="1202" y="398" width="3" height="2" fill="#fff"/>
<rect x="1211" y="399" width="1" height="42"/>
<rect x="1209" y="408" width="5" height="7"/>
<rect x="1210" y="409" width="3" height="5" fill="#fff"/>
<rect x="1219" y="426" width="1" height="25"/>
<rect x="1217" y="440" width="5" height="5"/>
<rect x="1218" y="441" width="3" height="3" fill="#fff"/>
<rect x="1227" y="412" width="1" height="23"/>
<rect x="1225" y="421" width="5" height="2"/>
<rect x="1235" y="390" width="1" height="27"/>
<rect x="1233" y="395" width="5" height="22"/>
<rect x="1234" y="396" width="3" height="20" fill="#fff"/>
<rect x="1243" y="379" width="1" height="26"/>
<rect x="1241" y="395" width="5" height="4"/>
<rect x="1242" y="396" width="3" height="2" fill="#fff"/>
<rect x="1251" y="388" width="1" height="30"/>
<rect x="1249" y="404" width="5" height="3"/>
<rect x="1250" y="405" width="3" height="1" fill="#fff"/>
<rect x="1259" y="377" width="1" height="34"/>
<rect x="1257" y="380" width="5" height="26"/>
<rect x="1258" y="381" width="3" height="24" fill="#fff"/>
<rect x="1267" y="336" width="1" height="33"/>
<rect x="1265" y="345" width="5" height="24"/>
<rect x="1266" y="346" width="3" height="22" fill="#fff"/>
<rect x="1275" y="270" width="1" height="32"/>
<rect x="1273" y="275" width="5" height="23"/>
<rect x="1274" y="276" width="3" height="21" fill="#fff"/>
<rect x="1283" y="269" width="1" height="26"/>
<rect x="1281" y="286" width="5" height="2"/>
<rect x="1291" y="251" width="1" height="38"/>
<rect x="1289" y="261" width="5" height="23"/>
<rect x="1290" y="262" width="3" height="21" fill="#fff"/>
<rect x="1299" y="241" width="1" height="25"/>
<rect x="1297" y="251" width="5" height="4"/>
<rect x="1298" y="252" width="3" height="2" fill="#fff"/>
<rect x="1307" y="246" width="1" height="30"/>
<rect x="1305" y="254" width="5" height="10"/>
<rect x="1315" y="243" width="1" height="26"/>
<rect x="1313" y="250" width="5" height="15"/>
<rect x="1314" y="251" width="3" height="13" fill="#fff"/>
<rect x="1323" y="237" width="1" height="23"/>
<rect x="1321" y="240" width="5" height="20"/>
<rect x="1331" y="242" width="1" height="15"/>
<rect x="1329" y="246" width="5" height="5"/>
<rect x="1339" y="209" width="1" height="25"/>
<rect x="1337" y="212" width="5" height="18"/>
<rect x="1338" y="213" width="3" height="16" fill="#fff"/>
</g>
<rect x="1295" y="221" width="76" height="8" fill="#00ff00" shape-rendering="crispEdges"/>
</g>
<g shape-rendering="crispEdges">
<rect x="1452" y="224" width="8" height="1" fill="#ff0000" />
<rect x="1459.5" y="222.5" width="2.5" height="3.5" fill="#fff" stroke="#ff0000" stroke-width="1"/>
<rect x="1462.5" y="212.5" width="73" height="23" fill="#fff" stroke="#ff0000" stroke-width="1"/>
</g>
<text x="1462.8" y="232.8" font-size="22.2" fill="#ff0000" font-family="'Liberation Sans', Arial, sans-serif" textLength="72.3" lengthAdjust="spacingAndGlyphs" >28189.7</text>
<text x="1371" y="286" font-size="32" fill="#000" font-family="'Noto Serif CJK SC', 'Noto Serif CJK', serif" font-weight="600" textLength="163" lengthAdjust="spacingAndGlyphs" transform="translate(-1,1)">多空转折点</text>
<text x="1371" y="286" font-size="32" fill="#00ff00" font-family="'Noto Serif CJK SC', 'Noto Serif CJK', serif" font-weight="600" textLength="163" lengthAdjust="spacingAndGlyphs">多空转折点</text>
<polygon points="1349,28 1358.2,28 1353.6,33" fill="#c0c0c0"/>
<polygon points="0,38 3,34 6,38" fill="#000"/>
<text x="10" y="39" font-size="10" fill="#000" font-family="'Liberation Sans', Arial, sans-serif" textLength="51" lengthAdjust="spacingAndGlyphs" >HK50-,Daily</text>
<text x="67" y="39" font-size="10" fill="#000" font-family="'Liberation Sans', Arial, sans-serif" textLength="141" lengthAdjust="spacingAndGlyphs" >28141.0 28334.0 28117.0 28311.0</text>
<defs>
<linearGradient id="gTop" x1="0" y1="0" x2="0" y2="1"><stop offset="0" stop-color="#fb5858"/><stop offset="1" stop-color="#e22a2a"/></linearGradient>
<linearGradient id="gBot" x1="0" y1="0" x2="0" y2="1"><stop offset="0" stop-color="#e53535"/><stop offset="0.5" stop-color="#cc1a1a"/><stop offset="1" stop-color="#b00202"/></linearGradient>
<linearGradient id="gBtn" x1="0" y1="0" x2="0" y2="1"><stop offset="0" stop-color="#f4f4f4"/><stop offset="0.45" stop-color="#e6e6e6"/><stop offset="0.5" stop-color="#d9d9d9"/><stop offset="1" stop-color="#d4d4d4"/></linearGradient>
</defs>
<g shape-rendering="crispEdges">
<rect x="0" y="45" width="219" height="69" fill="#ffffff" />
<rect x="0" y="47" width="50" height="24" fill="#c00000" />
<rect x="0" y="48" width="49" height="23" fill="url(#gTop)" />
<rect x="0" y="71" width="107" height="40" fill="#c00000" />
<rect x="0" y="72" width="106" height="38" fill="url(#gBot)" />
<rect x="2" y="70" width="44" height="1" fill="#8a0000" />
<rect x="2" y="71" width="44" height="1" fill="#f07070" />
<rect x="165" y="47" width="52" height="24" fill="#c00000" />
<rect x="166" y="48" width="50" height="23" fill="url(#gTop)" />
<rect x="109" y="71" width="108" height="40" fill="#c00000" />
<rect x="110" y="72" width="106" height="38" fill="url(#gBot)" />
<rect x="169" y="70" width="44" height="1" fill="#8a0000" />
<rect x="169" y="71" width="44" height="1" fill="#f07070" />
<rect x="52" y="47" width="111" height="22" fill="#a8a8a8" />
<rect x="53" y="48" width="109" height="20" fill="#ffffff" />
<rect x="53" y="48" width="20" height="20" fill="url(#gBtn)" />
<rect x="73" y="48" width="1" height="20" fill="#a8a8a8" />
<rect x="142" y="48" width="20" height="20" fill="url(#gBtn)" />
<rect x="141" y="48" width="1" height="20" fill="#a8a8a8" />
</g>
<polygon points="60,56 65.5,56 62.75,59" fill="#4a62c8"/>
<polygon points="149,59 154.5,59 151.75,56" fill="#4a62c8"/>
<text x="10" y="63" font-size="12.5" fill="#ffffff" font-family="'Liberation Sans', Arial, sans-serif" textLength="26" lengthAdjust="spacingAndGlyphs" >SELL</text>
<text x="178.5" y="63" font-size="12.5" fill="#ffffff" font-family="'Liberation Sans', Arial, sans-serif" textLength="23" lengthAdjust="spacingAndGlyphs" >BUY</text>
<text x="114.5" y="62" font-size="13" fill="#000" font-family="'Liberation Sans', Arial, sans-serif" textLength="23.5" lengthAdjust="spacingAndGlyphs" >1.00</text>
<text x="14" y="102" font-size="12.5" fill="#fff" font-family="'Liberation Sans', Arial, sans-serif" textLength="34.6" lengthAdjust="spacingAndGlyphs" font-weight="bold" >28309</text>
<rect x="53.4" y="98" width="4.2" height="4" rx="0.8" fill="#fff"/>
<text x="59.8" y="101.6" font-size="34.5" fill="#fff" font-family="'Liberation Sans', Arial, sans-serif" textLength="16.4" lengthAdjust="spacingAndGlyphs" >5</text>
<text x="124" y="102" font-size="12.5" fill="#fff" font-family="'Liberation Sans', Arial, sans-serif" textLength="34.4" lengthAdjust="spacingAndGlyphs" font-weight="bold" >28326</text>
<rect x="164.3" y="98" width="4.2" height="4" rx="0.8" fill="#fff"/>
<text x="170.3" y="101.6" font-size="34.5" fill="#fff" font-family="'Liberation Sans', Arial, sans-serif" textLength="16.4" lengthAdjust="spacingAndGlyphs" >5</text>
<g shape-rendering="crispEdges">
<rect x="1615" y="49" width="2" height="1" fill="#000" />
<rect x="1615" y="82" width="2" height="1" fill="#000" />
<rect x="1615" y="115" width="2" height="1" fill="#000" />
<rect x="1615" y="148" width="2" height="1" fill="#000" />
<rect x="1615" y="181" width="2" height="1" fill="#000" />
<rect x="1615" y="214" width="2" height="1" fill="#000" />
<rect x="1615" y="247" width="2" height="1" fill="#000" />
<rect x="1615" y="280" width="2" height="1" fill="#000" />
<rect x="1615" y="313" width="2" height="1" fill="#000" />
<rect x="1615" y="346" width="2" height="1" fill="#000" />
<rect x="1615" y="379" width="2" height="1" fill="#000" />
<rect x="1615" y="412" width="2" height="1" fill="#000" />
<rect x="1615" y="445" width="2" height="1" fill="#000" />
<rect x="1615" y="478" width="2" height="1" fill="#000" />
<rect x="1615" y="511" width="2" height="1" fill="#000" />
<rect x="1615" y="544" width="2" height="1" fill="#000" />
<rect x="1615" y="577" width="2" height="1" fill="#000" />
</g>
<text x="1620" y="53" font-size="9.7" fill="#000" font-family="'Liberation Sans', Arial, sans-serif" textLength="32.5" lengthAdjust="spacingAndGlyphs" >29924.0</text>
<text x="1620" y="86" font-size="9.7" fill="#000" font-family="'Liberation Sans', Arial, sans-serif" textLength="32.5" lengthAdjust="spacingAndGlyphs" >29591.5</text>
<text x="1620" y="119" font-size="9.7" fill="#000" font-family="'Liberation Sans', Arial, sans-serif" textLength="32.5" lengthAdjust="spacingAndGlyphs" >29268.5</text>
<text x="1620" y="152" font-size="9.7" fill="#000" font-family="'Liberation Sans', Arial, sans-serif" textLength="32.5" lengthAdjust="spacingAndGlyphs" >28945.5</text>
<text x="1620" y="185" font-size="9.7" fill="#000" font-family="'Liberation Sans', Arial, sans-serif" textLength="32.5" lengthAdjust="spacingAndGlyphs" >28618.5</text>
<text x="1620" y="218" font-size="9.7" fill="#000" font-family="'Liberation Sans', Arial, sans-serif" textLength="32.5" lengthAdjust="spacingAndGlyphs" >28296.0</text>
<text x="1620" y="251" font-size="9.7" fill="#000" font-family="'Liberation Sans', Arial, sans-serif" textLength="32.5" lengthAdjust="spacingAndGlyphs" >27963.0</text>
<text x="1620" y="284" font-size="9.7" fill="#000" font-family="'Liberation Sans', Arial, sans-serif" textLength="32.5" lengthAdjust="spacingAndGlyphs" >27634.5</text>
<text x="1620" y="317" font-size="9.7" fill="#000" font-family="'Liberation Sans', Arial, sans-serif" textLength="32.5" lengthAdjust="spacingAndGlyphs" >27311.5</text>
<text x="1620" y="350" font-size="9.7" fill="#000" font-family="'Liberation Sans', Arial, sans-serif" textLength="32.5" lengthAdjust="spacingAndGlyphs" >26988.5</text>
<text x="1620" y="383" font-size="9.7" fill="#000" font-family="'Liberation Sans', Arial, sans-serif" textLength="32.5" lengthAdjust="spacingAndGlyphs" >26656.0</text>
<text x="1620" y="416" font-size="9.7" fill="#000" font-family="'Liberation Sans', Arial, sans-serif" textLength="32.5" lengthAdjust="spacingAndGlyphs" >26333.0</text>
<text x="1620" y="449" font-size="9.7" fill="#000" font-family="'Liberation Sans', Arial, sans-serif" textLength="32.5" lengthAdjust="spacingAndGlyphs" >26010.0</text>
<text x="1620" y="482" font-size="9.7" fill="#000" font-family="'Liberation Sans', Arial, sans-serif" textLength="32.5" lengthAdjust="spacingAndGlyphs" >25687.0</text>
<text x="1620" y="515" font-size="9.7" fill="#000" font-family="'Liberation Sans', Arial, sans-serif" textLength="32.5" lengthAdjust="spacingAndGlyphs" >25354.5</text>
<text x="1620" y="548" font-size="9.7" fill="#000" font-family="'Liberation Sans', Arial, sans-serif" textLength="32.5" lengthAdjust="spacingAndGlyphs" >25031.5</text>
<text x="1620" y="581" font-size="9.7" fill="#000" font-family="'Liberation Sans', Arial, sans-serif" textLength="32.5" lengthAdjust="spacingAndGlyphs" >24708.5</text>
<rect x="1616" y="172" width="41" height="11" fill="#ff0000" shape-rendering="crispEdges"/>
<text x="1620" y="181" font-size="10" fill="#fff" font-family="'Liberation Sans', Arial, sans-serif" textLength="32.5" lengthAdjust="spacingAndGlyphs" >28643.2</text>
<rect x="1616" y="189" width="41" height="11" fill="#ff0000" shape-rendering="crispEdges"/>
<text x="1620" y="198" font-size="10" fill="#fff" font-family="'Liberation Sans', Arial, sans-serif" textLength="32.5" lengthAdjust="spacingAndGlyphs" >28475.6</text>
<rect x="1616" y="207" width="41" height="11" fill="#000000" shape-rendering="crispEdges"/>
<text x="1620" y="216" font-size="10" fill="#fff" font-family="'Liberation Sans', Arial, sans-serif" textLength="32.5" lengthAdjust="spacingAndGlyphs" >28311.0</text>
<rect x="1616" y="218" width="41" height="11" fill="#32cd32" shape-rendering="crispEdges"/>
<text x="1620" y="227" font-size="10" fill="#fff" font-family="'Liberation Sans', Arial, sans-serif" textLength="32.5" lengthAdjust="spacingAndGlyphs" >28189.7</text>
<rect x="1616" y="231" width="41" height="11" fill="#0000ff" shape-rendering="crispEdges"/>
<text x="1620" y="240" font-size="10" fill="#fff" font-family="'Liberation Sans', Arial, sans-serif" textLength="32.5" lengthAdjust="spacingAndGlyphs" >28061.5</text>
<rect x="1616" y="243" width="41" height="11" fill="#0000ff" shape-rendering="crispEdges"/>
<text x="1620" y="252" font-size="10" fill="#fff" font-family="'Liberation Sans', Arial, sans-serif" textLength="32.5" lengthAdjust="spacingAndGlyphs" >27943.2</text>
<g clip-path="url(#macdc)">
<g shape-rendering="crispEdges" fill="#c0c0c0">
<rect x="3" y="615" width="1" height="26"/>
<rect x="11" y="618" width="1" height="23"/>
<rect x="19" y="622" width="1" height="19"/>
<rect x="27" y="624" width="1" height="17"/>
<rect x="35" y="623" width="1" height="18"/>
<rect x="43" y="633" width="1" height="8"/>
<rect x="51" y="638" width="1" height="3"/>
<rect x="59" y="640" width="1" height="5"/>
<rect x="67" y="640" width="1" height="21"/>
<rect x="75" y="640" width="1" height="27"/>
<rect x="83" y="640" width="1" height="38"/>
<rect x="91" y="640" width="1" height="45"/>
<rect x="99" y="640" width="1" height="48"/>
<rect x="107" y="640" width="1" height="54"/>
<rect x="115" y="640" width="1" height="60"/>
<rect x="123" y="640" width="1" height="65"/>
<rect x="131" y="640" width="1" height="67"/>
<rect x="139" y="640" width="1" height="71"/>
<rect x="147" y="640" width="1" height="74"/>
<rect x="155" y="640" width="1" height="76"/>
<rect x="163" y="640" width="1" height="75"/>
<rect x="171" y="640" width="1" height="76"/>
<rect x="179" y="640" width="1" height="78"/>
<rect x="187" y="640" width="1" height="81"/>
<rect x="195" y="640" width="1" height="81"/>
<rect x="203" y="640" width="1" height="83"/>
<rect x="211" y="640" width="1" height="81"/>
<rect x="219" y="640" width="1" height="78"/>
<rect x="227" y="640" width="1" height="68"/>
<rect x="235" y="640" width="1" height="57"/>
<rect x="243" y="640" width="1" height="54"/>
<rect x="251" y="640" width="1" height="51"/>
<rect x="259" y="640" width="1" height="49"/>
<rect x="267" y="640" width="1" height="46"/>
<rect x="275" y="640" width="1" height="40"/>
<rect x="283" y="640" width="1" height="27"/>
<rect x="291" y="640" width="1" height="13"/>
<rect x="299" y="640" width="1" height="1"/>
<rect x="307" y="634" width="1" height="7"/>
<rect x="315" y="631" width="1" height="10"/>
<rect x="323" y="628" width="1" height="13"/>
<rect x="331" y="622" width="1" height="19"/>
<rect x="339" y="618" width="1" height="23"/>
<rect x="347" y="611" width="1" height="30"/>
<rect x="355" y="605" width="1" height="36"/>
<rect x="363" y="602" width="1" height="39"/>
<rect x="371" y="601" width="1" height="40"/>
<rect x="379" y="605" width="1" height="36"/>
<rect x="387" y="612" width="1" height="29"/>
<rect x="395" y="615" width="1" height="26"/>
<rect x="403" y="615" width="1" height="26"/>
<rect x="411" y="616" width="1" height="25"/>
<rect x="419" y="617" width="1" height="24"/>
<rect x="427" y="615" width="1" height="26"/>
<rect x="435" y="615" width="1" height="26"/>
<rect x="443" y="619" width="1" height="22"/>
<rect x="451" y="617" width="1" height="24"/>
<rect x="459" y="620" width="1" height="21"/>
<rect x="467" y="622" width="1" height="19"/>
<rect x="475" y="623" width="1" height="18"/>
<rect x="483" y="623" width="1" height="18"/>
<rect x="491" y="627" width="1" height="14"/>
<rect x="499" y="632" width="1" height="9"/>
<rect x="507" y="636" width="1" height="5"/>
<rect x="515" y="640" width="1" height="1"/>
<rect x="523" y="640" width="1" height="11"/>
<rect x="531" y="640" width="1" height="24"/>
<rect x="539" y="640" width="1" height="43"/>
<rect x="547" y="640" width="1" height="58"/>
<rect x="555" y="640" width="1" height="69"/>
<rect x="563" y="640" width="1" height="76"/>
<rect x="571" y="640" width="1" height="83"/>
<rect x="579" y="640" width="1" height="90"/>
<rect x="587" y="640" width="1" height="99"/>
<rect x="595" y="640" width="1" height="103"/>
<rect x="603" y="640" width="1" height="105"/>
<rect x="611" y="640" width="1" height="102"/>
<rect x="619" y="640" width="1" height="93"/>
<rect x="627" y="640" width="1" height="84"/>
<rect x="635" y="640" width="1" height="76"/>
<rect x="643" y="640" width="1" height="72"/>
<rect x="651" y="640" width="1" height="67"/>
<rect x="659" y="640" width="1" height="66"/>
<rect x="667" y="640" width="1" height="64"/>
<rect x="675" y="640" width="1" height="64"/>
<rect x="683" y="640" width="1" height="62"/>
<rect x="691" y="640" width="1" height="61"/>
<rect x="699" y="640" width="1" height="60"/>
<rect x="707" y="640" width="1" height="59"/>
<rect x="715" y="640" width="1" height="46"/>
<rect x="723" y="640" width="1" height="36"/>
<rect x="731" y="640" width="1" height="26"/>
<rect x="739" y="640" width="1" height="18"/>
<rect x="747" y="640" width="1" height="11"/>
<rect x="755" y="640" width="1" height="1"/>
<rect x="763" y="634" width="1" height="7"/>
<rect x="771" y="625" width="1" height="16"/>
<rect x="779" y="621" width="1" height="20"/>
<rect x="787" y="622" width="1" height="19"/>
<rect x="795" y="623" width="1" height="18"/>
<rect x="803" y="626" width="1" height="15"/>
<rect x="811" y="630" width="1" height="11"/>
<rect x="819" y="636" width="1" height="5"/>
<rect x="827" y="639" width="1" height="2"/>
<rect x="835" y="640" width="1" height="5"/>
<rect x="843" y="640" width="1" height="9"/>
<rect x="851" y="640" width="1" height="12"/>
<rect x="859" y="640" width="1" height="14"/>
<rect x="867" y="640" width="1" height="16"/>
<rect x="875" y="640" width="1" height="16"/>
<rect x="883" y="640" width="1" height="19"/>
<rect x="891" y="640" width="1" height="21"/>
<rect x="899" y="640" width="1" height="24"/>
<rect x="907" y="640" width="1" height="24"/>
<rect x="915" y="640" width="1" height="17"/>
<rect x="923" y="640" width="1" height="12"/>
<rect x="931" y="640" width="1" height="7"/>
<rect x="939" y="640" width="1" height="2"/>
<rect x="947" y="635" width="1" height="6"/>
<rect x="955" y="632" width="1" height="9"/>
<rect x="963" y="630" width="1" height="11"/>
<rect x="971" y="627" width="1" height="14"/>
<rect x="979" y="628" width="1" height="13"/>
<rect x="987" y="626" width="1" height="15"/>
<rect x="995" y="626" width="1" height="15"/>
<rect x="1003" y="623" width="1" height="18"/>
<rect x="1011" y="623" width="1" height="18"/>
<rect x="1019" y="624" width="1" height="17"/>
<rect x="1027" y="622" width="1" height="19"/>
<rect x="1035" y="618" width="1" height="23"/>
<rect x="1043" y="611" width="1" height="30"/>
<rect x="1051" y="605" width="1" height="36"/>
<rect x="1059" y="600" width="1" height="41"/>
<rect x="1067" y="595" width="1" height="46"/>
<rect x="1075" y="594" width="1" height="47"/>
<rect x="1083" y="601" width="1" height="40"/>
<rect x="1091" y="605" width="1" height="36"/>
<rect x="1099" y="617" width="1" height="24"/>
<rect x="1107" y="627" width="1" height="14"/>
<rect x="1115" y="635" width="1" height="6"/>
<rect x="1123" y="638" width="1" height="3"/>
<rect x="1131" y="635" width="1" height="6"/>
<rect x="1139" y="637" width="1" height="4"/>
<rect x="1147" y="640" width="1" height="1"/>
<rect x="1155" y="640" width="1" height="3"/>
<rect x="1163" y="640" width="1" height="1"/>
<rect x="1171" y="639" width="1" height="2"/>
<rect x="1179" y="637" width="1" height="4"/>
<rect x="1187" y="637" width="1" height="4"/>
<rect x="1195" y="640" width="1" height="3"/>
<rect x="1203" y="640" width="1" height="6"/>
<rect x="1211" y="640" width="1" height="9"/>
<rect x="1219" y="640" width="1" height="15"/>
<rect x="1227" y="640" width="1" height="17"/>
<rect x="1235" y="640" width="1" height="16"/>
<rect x="1243" y="640" width="1" height="15"/>
<rect x="1251" y="640" width="1" height="15"/>
<rect x="1259" y="640" width="1" height="13"/>
<rect x="1267" y="640" width="1" height="6"/>
<rect x="1275" y="635" width="1" height="6"/>
<rect x="1283" y="627" width="1" height="14"/>
<rect x="1291" y="618" width="1" height="23"/>
<rect x="1299" y="611" width="1" height="30"/>
<rect x="1307" y="606" width="1" height="35"/>
<rect x="1315" y="602" width="1" height="39"/>
<rect x="1323" y="599" width="1" height="42"/>
<rect x="1331" y="597" width="1" height="44"/>
<rect x="1339" y="592" width="1" height="49"/>
</g>
<polyline points="0.0,596.5 25.3,604.0 50.6,618.5 68.3,631.1 83.4,642.0 101.1,658.4 118.8,676.1 134.0,688.8 151.7,698.9 169.4,707.7 189.6,714.0 202.3,716.6 220.0,717.9 237.7,714.6 252.8,710.3 273.1,698.9 293.3,680.0 311.0,666.0 328.7,650.9 354.0,625.6 379.3,613.0 399.5,608.6 410.0,608.4 435.3,612.9 460.6,616.7 485.9,618.5 506.1,622.5 523.8,631.9 539.0,641.2 554.1,655.9 571.8,678.7 587.0,698.9 602.2,720.4 617.3,729.2 632.5,732.3 647.7,729.7 662.8,724.2 683.1,712.8 705.8,703.4 726.1,696.4 738.7,690.0 753.9,676.1 769.0,658.4 784.2,645.8 796.9,635.7 809.5,631.1 827.2,627.6 845.3,631.9 858.0,637.0 870.6,642.8 885.7,649.6 900.9,655.4 916.1,657.2 931.2,656.4 946.4,652.9 961.6,647.1 976.8,640.7 991.9,633.7 1007.1,628.6 1022.3,625.6 1037.4,622.3 1052.6,619.2 1067.8,611.7 1083.0,607.4 1093.1,604.8 1105.7,604.8 1118.4,610.4 1133.5,616.7 1148.7,626.8 1166.4,635.2 1184.1,637.7 1204.3,639.5 1219.5,643.3 1232.6,645.0 1245.6,649.0 1261.1,652.1 1271.5,651.5 1281.9,649.0 1292.3,643.8 1307.8,633.4 1320.8,624.3 1331.2,616.0 1338.5,609.3" fill="none" stroke="#ff0000" stroke-width="1" shape-rendering="crispEdges" stroke-dasharray="3,3"/>
</g>
<text x="0" y="595.2" font-size="9.7" fill="#000" font-family="'Liberation Sans', Arial, sans-serif" textLength="127.5" lengthAdjust="spacingAndGlyphs" >MACD(12,26,9) 365.34 232.60</text>
<g shape-rendering="crispEdges">
<rect x="1615" y="584" width="2" height="1" fill="#000" />
<rect x="1615" y="640" width="2" height="1" fill="#000" />
<rect x="1615" y="751" width="2" height="1" fill="#000" />
</g>
<text x="1618" y="593" font-size="10" fill="#000" font-family="'Liberation Sans', Arial, sans-serif" textLength="27.5" lengthAdjust="spacingAndGlyphs" >422.74</text>
<text x="1618" y="644" font-size="10" fill="#000" font-family="'Liberation Sans', Arial, sans-serif" textLength="18" lengthAdjust="spacingAndGlyphs" >0.00</text>
<text x="1618" y="749" font-size="10" fill="#000" font-family="'Liberation Sans', Arial, sans-serif" textLength="18" lengthAdjust="spacingAndGlyphs" >-840</text>
<g shape-rendering="crispEdges">
<line x1="0" y1="790.5" x2="1614" y2="790.5" stroke="#c0c0c0" stroke-width="1" stroke-dasharray="3,3" stroke-dashoffset="-2"/>
<line x1="0" y1="841.5" x2="1614" y2="841.5" stroke="#c0c0c0" stroke-width="1" stroke-dasharray="3,3" stroke-dashoffset="-2"/>
<line x1="0" y1="902.5" x2="1614" y2="902.5" stroke="#c0c0c0" stroke-width="1" stroke-dasharray="3,3" stroke-dashoffset="-2"/>
</g>
<g clip-path="url(#rsic)">
<polyline points="0.0,845.6 3.5,848.1 11.5,837.7 19.5,844.1 27.5,838.5 35.5,831.4 43.5,857.0 51.5,853.2 59.5,860.0 67.5,873.4 75.5,864.5 83.5,872.6 91.5,866.8 99.5,865.6 107.5,871.4 115.5,872.6 123.5,874.4 131.5,871.4 139.5,878.4 147.5,875.7 155.5,876.4 163.5,872.6 171.5,876.9 179.5,879.5 187.5,883.3 195.5,883.3 203.5,884.5 211.5,875.2 219.5,873.4 227.5,848.1 235.5,841.5 243.5,856.7 251.5,855.4 259.5,858.7 267.5,853.7 275.5,843.6 283.5,825.3 291.5,819.5 299.5,822.6 307.5,822.6 315.5,831.4 323.5,831.4 331.5,821.6 339.5,823.3 347.5,814.5 355.5,814.5 363.5,817.8 371.5,820.8 379.5,834.7 387.5,843.6 395.5,840.3 403.5,832.7 411.5,831.4 419.5,831.4 427.5,828.4 435.5,829.6 443.5,837.2 451.5,824.6 459.5,840.5 467.5,838.5 475.5,835.5 483.5,834.2 491.5,843.6 499.5,851.6 507.5,850.6 515.5,860.0 523.5,868.8 531.5,880.2 539.5,890.3 547.5,890.3 555.5,890.3 563.5,887.3 571.5,888.6 579.5,892.9 587.5,897.2 595.5,896.1 603.5,886.0 611.5,876.4 619.5,858.7 627.5,857.5 635.5,856.2 643.5,863.3 651.5,857.5 659.5,867.6 667.5,867.6 675.5,869.6 683.5,865.6 691.5,866.3 699.5,868.1 707.5,869.6 715.5,834.2 723.5,835.5 731.5,831.4 739.5,830.4 747.5,830.4 755.5,818.3 763.5,819.0 771.5,814.5 779.5,824.6 787.5,835.5 795.5,835.5 803.5,844.1 811.5,845.6 819.5,854.2 827.5,848.6 835.5,859.2 843.5,855.4 851.5,855.4 859.5,853.2 867.5,856.7 875.5,848.6 883.5,859.2 891.5,856.7 899.5,861.3 907.5,854.9 915.5,834.7 923.5,831.4 931.5,833.4 939.5,829.1 947.5,822.8 955.5,830.4 963.5,829.1 971.5,827.6 979.5,837.2 987.5,830.4 995.5,832.2 1003.5,826.4 1011.5,832.2 1019.5,837.2 1027.5,826.4 1035.5,822.1 1043.5,811.2 1051.5,809.4 1059.5,808.2 1067.5,806.1 1075.5,813.7 1083.5,839.0 1091.5,840.5 1099.5,853.7 1107.5,858.0 1115.5,860.0 1123.5,845.6 1131.5,836.0 1139.5,843.0 1147.5,851.1 1155.5,846.6 1163.5,836.5 1171.5,837.7 1179.5,836.5 1187.5,840.3 1195.5,853.7 1203.5,850.4 1211.5,852.4 1219.5,860.0 1227.5,853.7 1235.5,846.5 1243.5,846.5 1251.5,848.1 1259.5,840.3 1267.5,830.4 1275.5,816.2 1283.5,820.1 1291.5,815.4 1299.5,814.1 1307.5,818.2 1315.5,815.4 1323.5,818.2 1331.5,816.2 1339.5,809.2" fill="none" stroke="#1e90ff" stroke-width="1" shape-rendering="crispEdges" />
</g>
<text x="0" y="767" font-size="9.7" fill="#000" font-family="'Liberation Sans', Arial, sans-serif" textLength="67.5" lengthAdjust="spacingAndGlyphs" >RSI(14) 69.1983</text>
<g shape-rendering="crispEdges">
<rect x="1615" y="756" width="2" height="1" fill="#000" />
<rect x="1615" y="790" width="2" height="1" fill="#000" />
<rect x="1615" y="841" width="2" height="1" fill="#000" />
<rect x="1615" y="902" width="2" height="1" fill="#000" />
<rect x="1615" y="927" width="2" height="1" fill="#000" />
</g>
<text x="1618" y="765" font-size="10" fill="#000" font-family="'Liberation Sans', Arial, sans-serif" textLength="14" lengthAdjust="spacingAndGlyphs" >100</text>
<text x="1618" y="794" font-size="10" fill="#000" font-family="'Liberation Sans', Arial, sans-serif" textLength="9.5" lengthAdjust="spacingAndGlyphs" >80</text>
<text x="1618" y="845" font-size="10" fill="#000" font-family="'Liberation Sans', Arial, sans-serif" textLength="9.5" lengthAdjust="spacingAndGlyphs" >50</text>
<text x="1618" y="906" font-size="10" fill="#000" font-family="'Liberation Sans', Arial, sans-serif" textLength="9.5" lengthAdjust="spacingAndGlyphs" >15</text>
<text x="1618" y="925" font-size="10" fill="#000" font-family="'Liberation Sans', Arial, sans-serif" textLength="5" lengthAdjust="spacingAndGlyphs" >0</text>
<g shape-rendering="crispEdges">
<rect x="-5" y="929" width="1" height="3" fill="#000" />
<rect x="59" y="929" width="1" height="3" fill="#000" />
<rect x="123" y="929" width="1" height="3" fill="#000" />
<rect x="187" y="929" width="1" height="3" fill="#000" />
<rect x="251" y="929" width="1" height="3" fill="#000" />
<rect x="315" y="929" width="1" height="3" fill="#000" />
<rect x="379" y="929" width="1" height="3" fill="#000" />
<rect x="443" y="929" width="1" height="3" fill="#000" />
<rect x="507" y="929" width="1" height="3" fill="#000" />
<rect x="571" y="929" width="1" height="3" fill="#000" />
<rect x="635" y="929" width="1" height="3" fill="#000" />
<rect x="699" y="929" width="1" height="3" fill="#000" />
<rect x="763" y="929" width="1" height="3" fill="#000" />
<rect x="827" y="929" width="1" height="3" fill="#000" />
<rect x="891" y="929" width="1" height="3" fill="#000" />
<rect x="955" y="929" width="1" height="3" fill="#000" />
<rect x="1019" y="929" width="1" height="3" fill="#000" />
<rect x="1083" y="929" width="1" height="3" fill="#000" />
<rect x="1147" y="929" width="1" height="3" fill="#000" />
<rect x="1211" y="929" width="1" height="3" fill="#000" />
<rect x="1275" y="929" width="1" height="3" fill="#000" />
<rect x="1339" y="929" width="1" height="3" fill="#000" />
</g>
<text x="-6.4" y="941" font-size="9.5" fill="#000" font-family="'Liberation Sans', Arial, sans-serif" textLength="51.9" lengthAdjust="spacingAndGlyphs" >25 Apr 2019</text>
<text x="57.5" y="941" font-size="9.5" fill="#000" font-family="'Liberation Sans', Arial, sans-serif" textLength="51.2" lengthAdjust="spacingAndGlyphs" >8 May 2019</text>
<text x="122.0" y="941" font-size="9.5" fill="#000" font-family="'Liberation Sans', Arial, sans-serif" textLength="55.0" lengthAdjust="spacingAndGlyphs" >21 May 2019</text>
<text x="186.2" y="941" font-size="9.5" fill="#000" font-family="'Liberation Sans', Arial, sans-serif" textLength="55.0" lengthAdjust="spacingAndGlyphs" >31 May 2019</text>
<text x="250.2" y="941" font-size="9.5" fill="#000" font-family="'Liberation Sans', Arial, sans-serif" textLength="50.4" lengthAdjust="spacingAndGlyphs" >13 Jun 2019</text>
<text x="314.7" y="941" font-size="9.5" fill="#000" font-family="'Liberation Sans', Arial, sans-serif" textLength="49.9" lengthAdjust="spacingAndGlyphs" >25 Jun 2019</text>
<text x="378.3" y="941" font-size="9.5" fill="#000" font-family="'Liberation Sans', Arial, sans-serif" textLength="42.3" lengthAdjust="spacingAndGlyphs" >8 Jul 2019</text>
<text x="442.5" y="941" font-size="9.5" fill="#000" font-family="'Liberation Sans', Arial, sans-serif" textLength="46.8" lengthAdjust="spacingAndGlyphs" >18 Jul 2019</text>
<text x="506.4" y="941" font-size="9.5" fill="#000" font-family="'Liberation Sans', Arial, sans-serif" textLength="46.7" lengthAdjust="spacingAndGlyphs" >30 Jul 2019</text>
<text x="570.4" y="941" font-size="9.5" fill="#000" font-family="'Liberation Sans', Arial, sans-serif" textLength="47.9" lengthAdjust="spacingAndGlyphs" >9 Aug 2019</text>
<text x="634.1" y="941" font-size="9.5" fill="#000" font-family="'Liberation Sans', Arial, sans-serif" textLength="53.2" lengthAdjust="spacingAndGlyphs" >21 Aug 2019</text>
<text x="698.6" y="941" font-size="9.5" fill="#000" font-family="'Liberation Sans', Arial, sans-serif" textLength="46.6" lengthAdjust="spacingAndGlyphs" >2 Sep 2019</text>
<text x="762.0" y="941" font-size="9.5" fill="#000" font-family="'Liberation Sans', Arial, sans-serif" textLength="52.5" lengthAdjust="spacingAndGlyphs" >12 Sep 2019</text>
<text x="825.8" y="941" font-size="9.5" fill="#000" font-family="'Liberation Sans', Arial, sans-serif" textLength="52.9" lengthAdjust="spacingAndGlyphs" >24 Sep 2019</text>
<text x="890.2" y="941" font-size="9.5" fill="#000" font-family="'Liberation Sans', Arial, sans-serif" textLength="46.1" lengthAdjust="spacingAndGlyphs" >8 Oct 2019</text>
<text x="954.2" y="941" font-size="9.5" fill="#000" font-family="'Liberation Sans', Arial, sans-serif" textLength="51.2" lengthAdjust="spacingAndGlyphs" >18 Oct 2019</text>
<text x="1017.9" y="941" font-size="9.5" fill="#000" font-family="'Liberation Sans', Arial, sans-serif" textLength="51.7" lengthAdjust="spacingAndGlyphs" >30 Oct 2019</text>
<text x="1082.4" y="941" font-size="9.5" fill="#000" font-family="'Liberation Sans', Arial, sans-serif" textLength="54.2" lengthAdjust="spacingAndGlyphs" >11 Nov 2019</text>
<text x="1145.8" y="941" font-size="9.5" fill="#000" font-family="'Liberation Sans', Arial, sans-serif" textLength="54.7" lengthAdjust="spacingAndGlyphs" >21 Nov 2019</text>
<text x="1210.3" y="941" font-size="9.5" fill="#000" font-family="'Liberation Sans', Arial, sans-serif" textLength="47.1" lengthAdjust="spacingAndGlyphs" >3 Dec 2019</text>
<text x="1274.0" y="941" font-size="9.5" fill="#000" font-family="'Liberation Sans', Arial, sans-serif" textLength="52.0" lengthAdjust="spacingAndGlyphs" >13 Dec 2019</text>
<text x="1337.7" y="941" font-size="9.5" fill="#000" font-family="'Liberation Sans', Arial, sans-serif" textLength="52.7" lengthAdjust="spacingAndGlyphs" >27 Dec 2019</text>
<rect x="0" y="949" width="1661" height="1" fill="#e8e8e8" />
</svg>
</body></html>
